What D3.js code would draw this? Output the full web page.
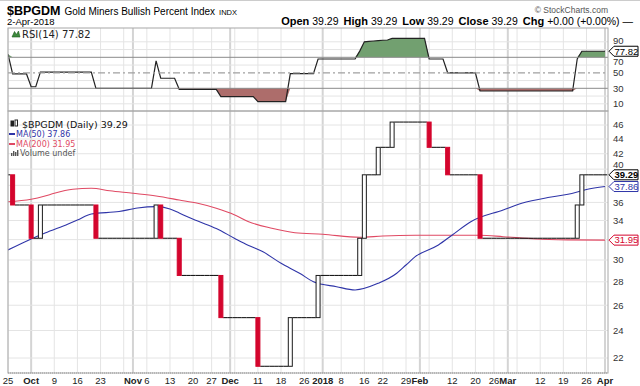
<!DOCTYPE html>
<html>
<head>
  <meta charset="utf-8">
  <title>$BPGDM Gold Miners Bullish Percent Index</title>
  <script src="https://d3js.org/d3.v7.min.js"></script>
  <style>
    body { margin: 0; background: #fff; }
    svg { display: block; }
    text { font-family: "Liberation Sans", Arial, sans-serif; }
    .leg { font-family: "DejaVu Sans", Verdana, sans-serif; }
  </style>
</head>
<body>

  <svg width="640" height="386"></svg>

  <script>
    // Daily closes, Sep 25 2017 .. Apr 2 2018, one row per week
    const closes = [
      39.29, 35.71, 35.71, 35.71, 35.71,
      32.14, 32.14, 35.71, 35.71, 35.71,
      35.71, 35.71, 35.71, 35.71, 35.71,
      35.71, 35.71, 35.71, 35.71, 32.14,
      32.14, 32.14, 32.14, 32.14, 32.14,
      32.14, 32.14, 32.14, 32.14, 32.14,
      32.14, 32.14, 35.71, 32.14, 32.14,
      32.14, 32.14, 28.57, 28.57, 28.57,
      28.57, 28.57, 28.57, 28.57,
      28.57, 28.57, 25.00, 25.00, 25.00,
      25.00, 25.00, 25.00, 25.00, 25.00,
      21.43, 21.43, 21.43, 21.43, 21.43,
      21.43, 21.43, 25.00, 25.00, 25.00,
      25.00, 25.00, 25.00, 28.57,
      28.57, 28.57, 28.57, 28.57,
      28.57, 28.57, 28.57, 28.57, 32.14,
      39.29, 39.29, 39.29, 42.86,
      42.86, 42.86, 46.43, 46.43, 46.43,
      46.43, 46.43, 46.43, 46.43, 46.43,
      42.86, 42.86, 42.86, 42.86, 39.29,
      39.29, 39.29, 39.29, 39.29, 39.29,
      39.29, 32.14, 32.14, 32.14,
      32.14, 32.14, 32.14, 32.14, 32.14,
      32.14, 32.14, 32.14, 32.14, 32.14,
      32.14, 32.14, 32.14, 32.14, 32.14,
      32.14, 32.14, 32.14, 35.71, 39.29,
      39.29, 39.29, 39.29, 39.29,
      39.29
    ];

    // RSI(14), same days
    const rsi = [
      74, 48.5, 48.5, 48.5, 48.5,
      32, 32, 51, 51, 51,
      51, 51, 51, 51, 51,
      51, 51, 51, 51, 30,
      30, 30, 30, 30, 30,
      30, 30, 30, 30, 30,
      30, 30, 65.5, 43, 43,
      43, 43, 28.7, 28.7, 28.7,
      28.7, 28.7, 28.7, 28.7,
      28.7, 28.7, 19.2, 19.2, 19.2,
      19.2, 19.2, 19.2, 19.2, 19.2,
      12.7, 12.7, 12.7, 12.7, 12.7,
      12.7, 12.7, 49, 49, 49,
      49, 49, 49, 67.8,
      67.8, 67.8, 67.8, 67.8,
      67.8, 67.8, 67.8, 67.8, 78,
      90, 90.5, 91, 91.5,
      92, 92.3, 94.5, 94.5, 94.5,
      94.5, 94.5, 94.5, 94.5, 94.5,
      67.8, 67.8, 67.8, 67.8, 50,
      50, 50, 50, 50, 50,
      50, 26.5, 26.5, 26.5,
      26.5, 26.5, 26.5, 26.5, 26.5,
      26.5, 26.5, 26.5, 26.5, 26.5,
      26.5, 26.5, 26.5, 26.5, 26.5,
      26.5, 26.5, 26.5, 68, 77.82,
      77.82, 77.82, 77.82, 77.82,
      77.82
    ];

    // moving averages read at sample days (trading-day number)
    const ma50Day = [0, 5, 8, 13, 15, 18, 24, 28, 32, 35, 37, 41, 45, 49, 52, 55, 59, 63, 66, 71, 75, 80, 84, 86, 88, 93, 96, 100, 107, 111, 117, 121, 125, 129];
    const ma50 = [30.97, 32.07, 32.68, 33.63, 34.05, 34.71, 34.98, 35.37, 35.52, 35.26, 34.81, 33.94, 33.15, 32.12, 31.41, 30.81, 29.69, 28.77, 28.01, 27.57, 27.29, 27.87, 28.77, 29.53, 30.32, 31.46, 32.48, 33.87, 35.15, 35.90, 36.59, 36.94, 37.50, 37.86];
    const ma200Day = [0, 5, 8, 10, 14, 18, 22, 27, 32, 37, 41, 45, 49, 52, 57, 62, 68, 76, 81, 88, 95, 102, 107, 114, 121, 129];
    const ma200 = [36.08, 36.36, 36.74, 37.06, 37.53, 37.65, 37.36, 37.06, 36.74, 36.28, 35.90, 35.34, 34.60, 33.87, 33.17, 32.71, 32.55, 32.24, 32.37, 32.44, 32.44, 32.44, 32.30, 32.07, 31.98, 31.95];

    const priceTicks = [22, 24, 26, 28, 30, 32, 34, 36, 38, 40, 42, 44, 46];
    const rsiLabels = [10, 30, 50, 70, 90];
    const rsiGrid = [10, 20, 30, 40, 50, 60, 70, 80, 90];

    // x grid: weekly starts and month starts, with their labels
    const gridDays = ["2017-09-25", "2017-10-02", "2017-10-09", "2017-10-16", "2017-10-23", "2017-10-30", "2017-11-01", "2017-11-06", "2017-11-13", "2017-11-20", "2017-11-27", "2017-12-01", "2017-12-04", "2017-12-11", "2017-12-18", "2017-12-26", "2018-01-02", "2018-01-08", "2018-01-16", "2018-01-22", "2018-01-29", "2018-02-01", "2018-02-05", "2018-02-12", "2018-02-20", "2018-02-26", "2018-03-01", "2018-03-05", "2018-03-12", "2018-03-19", "2018-03-26", "2018-04-02"];
    const gridLabels = ["25", "Oct", "9", "16", "23", "", "Nov", "6", "13", "20", "27", "Dec", "", "11", "18", "26", "2018", "8", "16", "22", "29", "Feb", "", "12", "20", "26", "Mar", "", "12", "19", "26", "Apr"];
    const majorLabels = ["Oct", "Nov", "Dec", "2018", "Feb", "Mar", "Apr"];

    const holidays = ["2017-11-23", "2017-12-25", "2018-01-01", "2018-01-15", "2018-02-19", "2018-03-30"];

    // layout
    const L = 8, R = 608;
    const rsiTop = 28, rsiBot = 111, mainBot = 373;

    const fmt = d3.timeFormat("%Y-%m-%d");
    const days = d3.timeDay.range(new Date(2017, 8, 25), new Date(2018, 3, 3))
      .filter(d => d.getDay() !== 0 && d.getDay() !== 6 && !holidays.includes(fmt(d)))
      .map(fmt);

    const x = d3.scalePoint().domain(days).range([L, 605]);
    const step = x.step();
    const y = d3.scaleLog().domain([22, 46]).range([358, 125]);
    const yr = d3.scaleLinear().domain([30, 70]).range([88.3, 57.3]);

    const svg = d3.select("svg");
    const defs = svg.append("defs");
    defs.append("clipPath").attr("id", "clipMain")
      .append("rect").attr("x", L).attr("y", rsiBot).attr("width", R - L).attr("height", mainBot - rsiBot);
    defs.append("clipPath").attr("id", "clipRsi")
      .append("rect").attr("x", L).attr("y", rsiTop).attr("width", R - L).attr("height", rsiBot - rsiTop);

    // top border
    svg.append("line").attr("x1", 0).attr("x2", 640).attr("y1", 0.5).attr("y2", 0.5).attr("stroke", "#ccc");

    // header
    const title = svg.append("text").attr("x", 7).attr("y", 14.5).attr("fill", "#000");
    title.append("tspan").attr("font-weight", "bold").attr("font-size", 12.5).text("$BPGDM");
    title.append("tspan").attr("dx", 4).attr("font-size", 10).text("Gold Miners Bullish Percent Index");
    title.append("tspan").attr("dx", 4).attr("font-size", 7.5).text("INDX");

    svg.append("text").attr("x", 7).attr("y", 25).attr("font-size", 9.5).text("2-Apr-2018");

    svg.append("text").attr("x", 608).attr("y", 12.5).attr("text-anchor", "end")
      .attr("font-size", 8.5).attr("fill", "#555").text("\u00a9 StockCharts.com");

    const ohlc = [["Open", "39.29"], ["High", "39.29"], ["Low", "39.29"], ["Close", "39.29"], ["Chg", "+0.00 (+0.00%) \u2014"]];
    const quote = svg.append("text").attr("x", 633).attr("y", 25).attr("text-anchor", "end").attr("font-size", 11);
    ohlc.forEach(([k, v], i) => {
      quote.append("tspan").attr("dx", i ? 5 : 0).attr("font-weight", "bold").text(k);
      quote.append("tspan").attr("dx", 3).attr("font-size", 10.5).text(v);
    });

    // panels: grid
    function vGrid(top, bot) {
      const g = svg.append("g");
      g.selectAll("line").data(gridDays).join("line")
        .attr("x1", d => x(d)).attr("x2", d => x(d))
        .attr("y1", top).attr("y2", bot)
        .attr("stroke", (d, i) => majorLabels.includes(gridLabels[i]) ? "#d4d4d4" : "#e4e4e4")
        .attr("stroke-width", (d, i) => majorLabels.includes(gridLabels[i]) ? 2 : 1);
    }
    vGrid(rsiTop, rsiBot);
    vGrid(rsiBot, mainBot);

    svg.append("g").selectAll("line").data(rsiGrid.filter(v => v !== 30 && v !== 70 && v !== 50)).join("line")
      .attr("x1", L).attr("x2", R).attr("y1", d => yr(d)).attr("y2", d => yr(d))
      .attr("stroke", "#e4e4e4");
    svg.append("g").selectAll("line").data(priceTicks).join("line")
      .attr("x1", L).attr("x2", R).attr("y1", d => y(d)).attr("y2", d => y(d))
      .attr("stroke", "#e4e4e4");

    // RSI panel
    const rg = svg.append("g").attr("clip-path", "url(#clipRsi)");
    const rsiPts = rsi.map((v, i) => ({ day: days[i], v }));
    rg.append("path").datum(rsiPts)
      .attr("fill", "#72a070").attr("stroke", "none")
      .attr("d", d3.area().x(d => x(d.day)).y0(yr(70)).y1(d => yr(Math.max(d.v, 70))));
    rg.append("path").datum(rsiPts)
      .attr("fill", "#ad6d6b").attr("stroke", "none")
      .attr("d", d3.area().x(d => x(d.day)).y0(yr(30)).y1(d => yr(Math.min(d.v, 30))));
    rg.append("path").datum(rsiPts)
      .attr("fill", "none").attr("stroke", "#222").attr("stroke-width", 1.2)
      .attr("d", d3.line().x(d => x(d.day)).y(d => yr(d.v)));
    [70, 30].forEach(v => rg.append("line").attr("x1", L).attr("x2", R)
      .attr("y1", yr(v)).attr("y2", yr(v)).attr("stroke", "#8a8a8a"));
    rg.append("line").attr("x1", L).attr("x2", R).attr("y1", yr(50)).attr("y2", yr(50))
      .attr("stroke", "#a0a0a0").attr("stroke-width", 1.2).attr("stroke-dasharray", "7,3,2,3");

    // RSI legend
    svg.append("path").attr("d", "M12,37 L14.5,31.5 L16.5,34.5 L18.5,31 L20,37 Z")
      .attr("fill", "#3d8a3d").attr("stroke", "#1d5a1d").attr("stroke-width", 0.6);
    svg.append("text").attr("class", "leg").attr("x", 22).attr("y", 37.5).attr("font-size", 10)
      .attr("fill", "#222").text("RSI(14) 77.82");

    // main panel
    const mg = svg.append("g").attr("clip-path", "url(#clipMain)");
    const lineMA = (dayIdx, vals) => dayIdx.map((d, i) => ({ day: days[d], v: vals[i] }));
    mg.append("path").datum(lineMA(ma200Day, ma200))
      .attr("fill", "none").attr("stroke", "#e04a64").attr("stroke-width", 1.1)
      .attr("d", d3.line().curve(d3.curveMonotoneX).x(d => x(d.day)).y(d => y(d.v)));
    mg.append("path").datum(lineMA(ma50Day, ma50))
      .attr("fill", "none").attr("stroke", "#2f35a8").attr("stroke-width", 1.1)
      .attr("d", d3.line().curve(d3.curveMonotoneX).x(d => x(d.day)).y(d => y(d.v)));

    const candles = closes.map((c, i) => ({ day: days[i], open: i ? closes[i - 1] : c, close: c }));
    mg.selectAll(".doji").data(candles.filter(d => d.open === d.close)).join("line")
      .attr("x1", d => x(d.day) - step / 2).attr("x2", d => x(d.day) + step / 2)
      .attr("y1", d => y(d.close)).attr("y2", d => y(d.close))
      .attr("stroke", "#1a1a1a").attr("stroke-width", 1.1);
    mg.selectAll(".body").data(candles.filter(d => d.open !== d.close)).join("rect")
      .attr("x", d => x(d.day) - 2)
      .attr("width", 4)
      .attr("y", d => y(Math.max(d.open, d.close)))
      .attr("height", d => Math.abs(y(d.open) - y(d.close)))
      .attr("fill", d => d.close < d.open ? "#d4052d" : "#fff")
      .attr("stroke", d => d.close < d.open ? "#d4052d" : "#1a1a1a")
      .attr("stroke-width", 1);

    // main legend
    const icon = svg.append("g").attr("stroke", "#222").attr("stroke-width", 1);
    icon.append("rect").attr("x", 11).attr("y", 121).attr("width", 2.5).attr("height", 5).attr("fill", "#222");
    icon.append("rect").attr("x", 15).attr("y", 120).attr("width", 2.5).attr("height", 6).attr("fill", "#fff");
    svg.append("text").attr("class", "leg").attr("x", 22).attr("y", 127.5).attr("font-size", 9.5)
      .attr("fill", "#111").text("$BPGDM (Daily) 39.29");
    svg.append("line").attr("x1", 9).attr("x2", 15).attr("y1", 134).attr("y2", 134).attr("stroke", "#2f35a8").attr("stroke-width", 2);
    svg.append("text").attr("class", "leg").attr("x", 16).attr("y", 137).attr("font-size", 8)
      .attr("fill", "#2f35a8").text("MA(50) 37.86");
    svg.append("line").attr("x1", 9).attr("x2", 15).attr("y1", 144).attr("y2", 144).attr("stroke", "#e04a64").attr("stroke-width", 2);
    svg.append("text").attr("class", "leg").attr("x", 16).attr("y", 147).attr("font-size", 8)
      .attr("fill", "#e04a64").text("MA(200) 31.95");
    [[11, 3], [13, 5], [15, 4], [17, 6]].forEach(([bx, bh]) =>
      svg.append("rect").attr("x", bx).attr("y", 156 - bh).attr("width", 1.4).attr("height", bh).attr("fill", "#555"));
    svg.append("text").attr("class", "leg").attr("x", 20).attr("y", 156).attr("font-size", 8)
      .attr("fill", "#555").text("Volume undef");

    // panel borders
    [[rsiTop, rsiBot], [rsiBot, mainBot]].forEach(([t, b]) =>
      svg.append("rect").attr("x", L).attr("y", t).attr("width", R - L).attr("height", b - t)
        .attr("fill", "none").attr("stroke", "#a8a8a8"));
    svg.append("line").attr("x1", L).attr("x2", R).attr("y1", mainBot).attr("y2", mainBot)
      .attr("stroke", "#999").attr("stroke-dasharray", "1,1");

    // value tags; axis labels they hide are left out, near ones are nudged clear
    const tags = [
      { y: y(closes[closes.length - 1]), label: "39.29", color: "#000", bold: true },
      { y: y(ma50[ma50.length - 1]), label: "37.86", color: "#2f35a8", bold: false },
      { y: y(ma200[ma200.length - 1]), label: "31.95", color: "#d4052d", bold: false }
    ];
    const rsiTags = [{ y: yr(rsi[rsi.length - 1]), label: "77.82", color: "#000", bold: false }];
    const gap = 10.5;
    const clear = (py, list) => {
      for (const t of list) {
        const d = py - t.y;
        if (Math.abs(d) < gap) return py + (d < 0 ? -1 : 1) * (gap - Math.abs(d));
      }
      return py;
    };

    // right axes
    svg.append("g").selectAll("text").data(priceTicks.filter(d => !tags.some(t => Math.abs(t.y - y(d)) < 5))).join("text")
      .attr("x", 613).attr("y", d => clear(y(d), tags)).attr("dy", "0.35em")
      .attr("font-size", 9.5).attr("fill", "#333").text(d => d);
    svg.append("g").selectAll("text").data(rsiLabels).join("text")
      .attr("x", 613).attr("y", d => clear(yr(d), rsiTags)).attr("dy", "0.35em")
      .attr("font-size", 9.5).attr("fill", "#333").text(d => d);

    function tag(t) {
      const x0 = 609;
      svg.append("path")
        .attr("d", `M${x0},${t.y} L${x0 + 5},${t.y - 5} L${x0 + 29},${t.y - 5} L${x0 + 29},${t.y + 5} L${x0 + 5},${t.y + 5} Z`)
        .attr("fill", "#fff").attr("stroke", t.color).attr("stroke-width", 1);
      svg.append("text").attr("x", x0 + 5.5).attr("y", t.y).attr("dy", "0.35em")
        .attr("font-size", 9.5).attr("font-weight", t.bold ? "bold" : "normal")
        .attr("fill", t.color).text(t.label);
    }
    tags.forEach(tag);
    rsiTags.forEach(tag);

    // x axis labels
    svg.append("g").selectAll("text").data(gridDays.filter((d, i) => gridLabels[i])).join("text")
      .attr("x", d => x(d)).attr("y", 383.5).attr("text-anchor", "middle")
      .attr("font-size", 9.5).attr("fill", "#222")
      .attr("font-weight", d => majorLabels.includes(gridLabels[gridDays.indexOf(d)]) ? "bold" : "normal")
      .text(d => gridLabels[gridDays.indexOf(d)]);
  </script>

</body>
</html>
